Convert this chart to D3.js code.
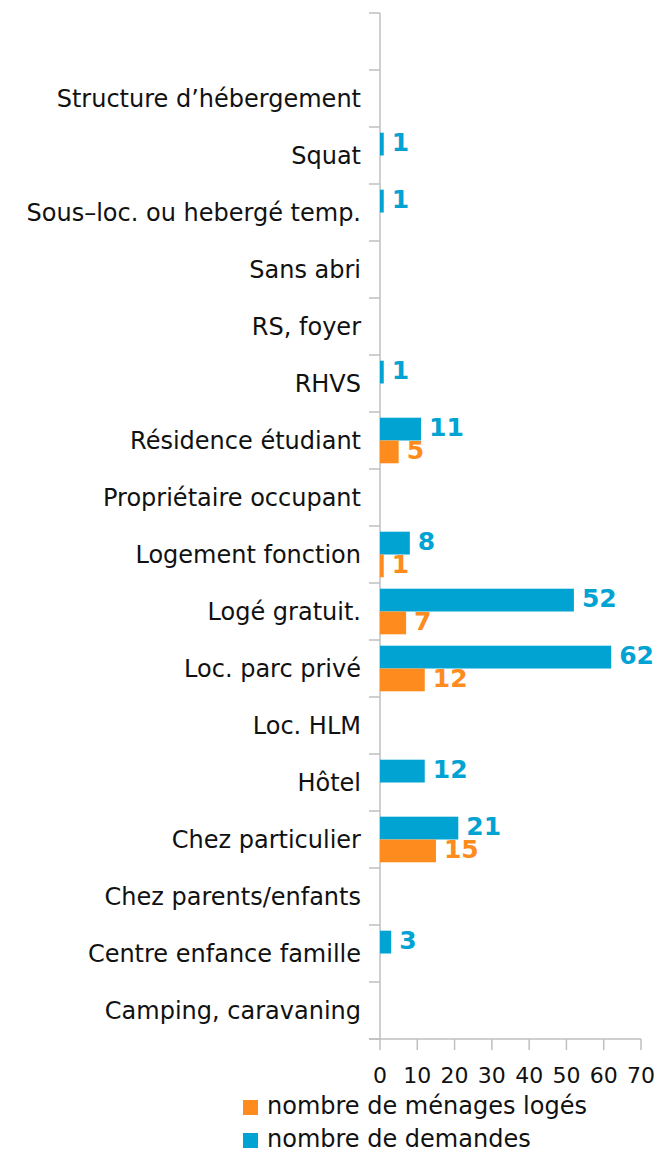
<!DOCTYPE html>
<html>
<head>
<meta charset="utf-8">
<script src="https://cdn.jsdelivr.net/npm/d3@7"></script>
<style>
  body { margin: 0; background: #fff; }
  text { font-family: "DejaVu Sans", sans-serif; }
</style>
</head>
<body>
<div id="chart"></div>
<script>
var w = 657, h = 1153;

// Categories, top to bottom (first band left empty like the original)
var categories = [
  "",
  "Structure d\u2019hébergement",
  "Squat",
  "Sous\u2013loc. ou hebergé temp.",
  "Sans abri",
  "RS, foyer",
  "RHVS",
  "Résidence étudiant",
  "Propriétaire occupant",
  "Logement fonction",
  "Logé gratuit.",
  "Loc. parc privé",
  "Loc. HLM",
  "Hôtel",
  "Chez particulier",
  "Chez parents/enfants",
  "Centre enfance famille",
  "Camping, caravaning"
];

// nombre de demandes (null = no bar)
var demandes = [null, null, 1, 1, null, null, 1, 11, null, 8, 52, 62, null, 12, 21, null, 3, null];
// nombre de ménages logés
var loges = [null, null, null, null, null, null, null, 5, null, 1, 7, 12, null, null, 15, null, null, null];

var xTicks = [0, 10, 20, 30, 40, 50, 60, 70];

var series = [
  { key: "demandes", name: "nombre de demandes", color: "#00a3d2", values: demandes },
  { key: "loges", name: "nombre de ménages logés", color: "#fd8b1e", values: loges }
];

var margin = { top: 13, left: 380, right: 16, bottom: 114 };

var svg = d3.select("#chart")
  .append("svg")
  .attr("width", w)
  .attr("height", h);

var x = d3.scaleLinear()
  .domain([0, 70])
  .range([margin.left, 641]);

var y = d3.scaleBand()
  .domain(categories)
  .range([margin.top, 1039]);

var inner = d3.scaleBand()
  .domain(series.map(function(s) { return s.key; }))
  .range([0, y.bandwidth()])
  .paddingOuter(0.25);

var axisColor = "#bfbfbf";

// vertical axis line + ticks between categories
svg.append("line")
  .attr("x1", x(0)).attr("x2", x(0))
  .attr("y1", margin.top).attr("y2", 1039)
  .attr("stroke", axisColor).attr("stroke-width", 1.5);

var bounds = categories.map(function(c) { return y(c); }).concat([1039]);
svg.selectAll(".ytick")
  .data(bounds)
  .enter().append("line")
  .attr("x1", x(0) - 11).attr("x2", x(0))
  .attr("y1", function(d) { return d; })
  .attr("y2", function(d) { return d; })
  .attr("stroke", axisColor).attr("stroke-width", 1.5);

// category labels
svg.selectAll(".ylabel")
  .data(categories)
  .enter().append("text")
  .attr("x", x(0) - 19)
  .attr("y", function(d) { return y(d) + y.bandwidth() / 2; })
  .attr("dy", "0.35em")
  .attr("text-anchor", "end")
  .attr("font-size", 24)
  .attr("fill", "#111")
  .text(function(d) { return d; });

// bottom axis
svg.append("line")
  .attr("x1", x(0) - 11).attr("x2", x(70))
  .attr("y1", 1039).attr("y2", 1039)
  .attr("stroke", axisColor).attr("stroke-width", 1.5);

svg.selectAll(".xtick")
  .data(xTicks)
  .enter().append("line")
  .attr("x1", function(d) { return x(d); })
  .attr("x2", function(d) { return x(d); })
  .attr("y1", 1039).attr("y2", 1050)
  .attr("stroke", axisColor).attr("stroke-width", 1.5);

svg.selectAll(".xlabel")
  .data(xTicks)
  .enter().append("text")
  .attr("x", function(d) { return x(d); })
  .attr("y", 1075)
  .attr("dy", "0.35em")
  .attr("text-anchor", "middle")
  .attr("font-size", 22)
  .attr("fill", "#111")
  .text(function(d) { return d; });

// bars
series.forEach(function(s) {
  var pts = s.values.map(function(v, i) { return { cat: categories[i], v: v }; })
    .filter(function(d) { return d.v != null; });

  var g = svg.append("g");
  g.selectAll("rect")
    .data(pts)
    .enter().append("rect")
    .attr("x", x(0))
    .attr("y", function(d) { return y(d.cat) + inner(s.key); })
    .attr("width", function(d) { return x(d.v) - x(0); })
    .attr("height", inner.bandwidth())
    .attr("fill", s.color);

  g.selectAll("text")
    .data(pts)
    .enter().append("text")
    .attr("x", function(d) { return x(d.v) + 8; })
    .attr("y", function(d) { return y(d.cat) + inner(s.key) + inner.bandwidth() / 2 - 2; })
    .attr("dy", "0.35em")
    .attr("font-family", "Liberation Sans, Arial, sans-serif")
    .attr("font-weight", "bold")
    .attr("font-size", 25)
    .attr("fill", s.color)
    .text(function(d) { return d.v; });
});

// legend
var legend = [series[1], series[0]];
var lg = svg.selectAll(".legend")
  .data(legend)
  .enter().append("g")
  .attr("transform", function(d, i) { return "translate(243," + (1100 + i * 33) + ")"; });

lg.append("rect")
  .attr("width", 15).attr("height", 15)
  .attr("fill", function(d) { return d.color; });

lg.append("text")
  .attr("x", 24)
  .attr("y", 6)
  .attr("dy", "0.35em")
  .attr("font-size", 24)
  .attr("fill", "#111")
  .text(function(d) { return d.name; });
</script>
</body>
</html>
